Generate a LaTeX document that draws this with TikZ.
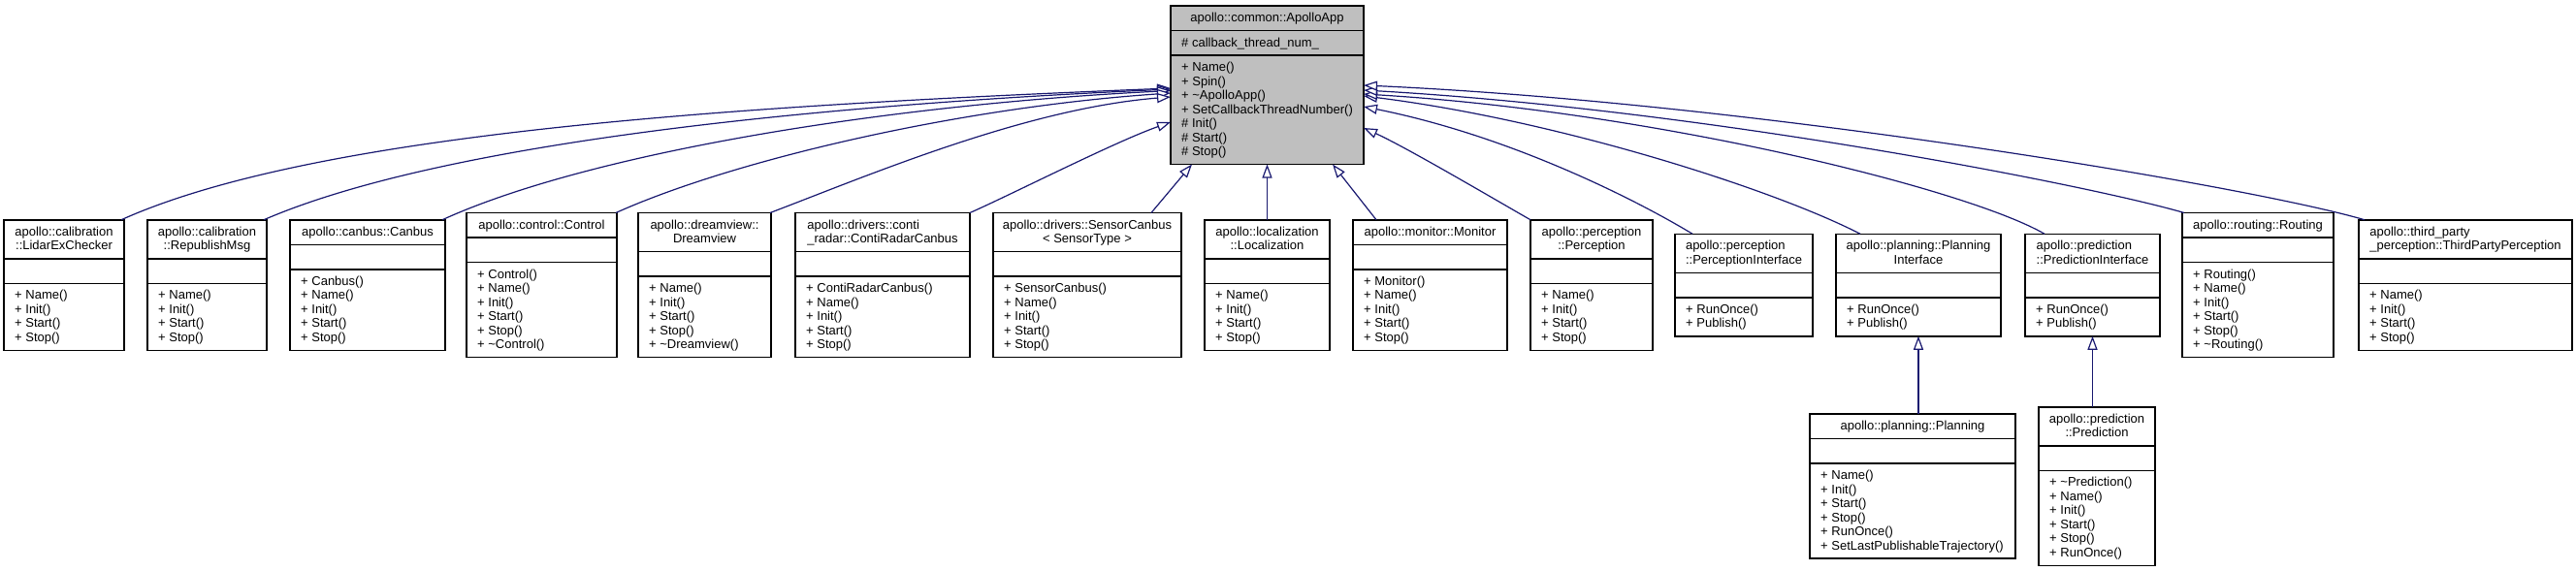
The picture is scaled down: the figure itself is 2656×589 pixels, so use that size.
\documentclass[tikz,border=0pt]{standalone}
\usepackage{fontspec}
\setmainfont{Liberation Sans}
\usetikzlibrary{arrows.meta}
\definecolor{grey75}{HTML}{BFBFBF}
\definecolor{navyedge}{HTML}{191970}
\newcommand\cfs{\fontsize{13}{14.5}\selectfont}
\tikzset{
  cbox/.style={draw=black, line width=1.5pt, inner sep=0pt, outer sep=0pt},
  cboxfill/.style={},
  cline/.style={draw=black, line width=1.5pt},
  ttl/.style={font=\cfs, align=center, inner sep=0pt},
  ttlL/.style={font=\cfs, align=left, inner sep=0pt},
  mth/.style={font=\cfs, align=left, inner sep=0pt},
  inh/.style={draw=navyedge, line width=1.2pt, -{Triangle[length=14pt,width=10pt,fill=white]}}
}
% #1 name, #2 x, #3 top, #4 width, #5 title height, #6 method height, #7 title style, #8 title, #9 methods
\newcommand\cbox[9]{%
  \node[cbox, cboxfill, anchor=north west, minimum width=#4pt, minimum height={(#5+25.5+#6)*1pt}] (#1) at (#2,-#3) {};
  \draw[cline] ([yshift={-#5pt}]#1.north west) -- ([yshift={-#5pt}]#1.north east);
  \draw[cline] ([yshift={-(#5+25.5)*1pt}]#1.north west) -- ([yshift={-(#5+25.5)*1pt}]#1.north east);
  \node[#7, anchor=north] (#1-t) at ([yshift=-6.2pt]#1.north) {\strut #8};
  \node[mth, anchor=north west] (#1-m) at ([xshift=11pt, yshift={-(#5+25.5+6.2)*1pt}]#1.north west) {\strut #9};
}
\begin{document}
\begin{tikzpicture}[x=1pt,y=1pt]
\useasboundingbox (0,0) rectangle (2656,-589);

% parent
\tikzset{cboxfill/.style={fill=grey75}}
\cbox{app}{1207}{6}{199}{25.5}{112.5}{ttl}{apollo::common::ApolloApp}{+ Name()\\+ Spin()\\+ \textasciitilde ApolloApp()\\+ SetCallbackThreadNumber()\\\# Init()\\\# Start()\\\# Stop()}
\node[mth, anchor=north west] (app-a) at ([xshift=11pt, yshift=-31.7pt]app.north west) {\strut\# callback\_thread\_num\_};
\tikzset{cboxfill/.style={}}

% row 1
\cbox{lidar}{4}{226.75}{124}{40}{69}{ttl}{apollo::calibration\\::LidarExChecker}{+ Name()\\+ Init()\\+ Start()\\+ Stop()}
\cbox{rep}{152}{226.75}{123}{40}{69}{ttl}{apollo::calibration\\::RepublishMsg}{+ Name()\\+ Init()\\+ Start()\\+ Stop()}
\cbox{canbus}{299}{226.75}{160}{25.5}{83.5}{ttl}{apollo::canbus::Canbus}{+ Canbus()\\+ Name()\\+ Init()\\+ Start()\\+ Stop()}
\cbox{control}{481}{219.5}{155}{25.5}{98}{ttl}{apollo::control::Control}{+ Control()\\+ Name()\\+ Init()\\+ Start()\\+ Stop()\\+ \textasciitilde Control()}
\cbox{dream}{658}{219.5}{137}{40}{83.5}{ttl}{apollo::dreamview::\\Dreamview}{+ Name()\\+ Init()\\+ Start()\\+ Stop()\\+ \textasciitilde Dreamview()}
\cbox{conti}{820}{219.5}{180}{40}{83.5}{ttlL}{apollo::drivers::conti\\\_radar::ContiRadarCanbus}{+ ContiRadarCanbus()\\+ Name()\\+ Init()\\+ Start()\\+ Stop()}
\cbox{sensor}{1024}{219.5}{194}{40}{83.5}{ttl}{apollo::drivers::SensorCanbus\\\textless{} SensorType \textgreater}{+ SensorCanbus()\\+ Name()\\+ Init()\\+ Start()\\+ Stop()}
\cbox{loc}{1242}{226.75}{129}{40}{69}{ttl}{apollo::localization\\::Localization}{+ Name()\\+ Init()\\+ Start()\\+ Stop()}
\cbox{mon}{1395}{226.75}{159}{25.5}{83.5}{ttl}{apollo::monitor::Monitor}{+ Monitor()\\+ Name()\\+ Init()\\+ Start()\\+ Stop()}
\cbox{perc}{1578}{226.75}{126}{40}{69}{ttl}{apollo::perception\\::Perception}{+ Name()\\+ Init()\\+ Start()\\+ Stop()}
\cbox{pif}{1727}{241.25}{142}{40}{40}{ttlL}{apollo::perception\\::PerceptionInterface}{+ RunOnce()\\+ Publish()}
\cbox{plif}{1893}{241.25}{170}{40}{40}{ttl}{apollo::planning::Planning\\Interface}{+ RunOnce()\\+ Publish()}
\cbox{prif}{2088}{241.25}{139}{40}{40}{ttlL}{apollo::prediction\\::PredictionInterface}{+ RunOnce()\\+ Publish()}
\cbox{rout}{2250}{219.5}{156}{25.5}{98}{ttl}{apollo::routing::Routing}{+ Routing()\\+ Name()\\+ Init()\\+ Start()\\+ Stop()\\+ \textasciitilde Routing()}
\cbox{third}{2432}{226.75}{220}{40}{69}{ttlL}{apollo::third\_party\\\_perception::ThirdPartyPerception}{+ Name()\\+ Init()\\+ Start()\\+ Stop()}

% row 2
\cbox{plan}{1866}{427}{212}{25.5}{98}{ttl}{apollo::planning::Planning}{+ Name()\\+ Init()\\+ Start()\\+ Stop()\\+ RunOnce()\\+ SetLastPublishableTrajectory()}
\cbox{pred}{2102}{419.75}{120}{40}{98}{ttl}{apollo::prediction\\::Prediction}{+ \textasciitilde Prediction()\\+ Name()\\+ Init()\\+ Start()\\+ Stop()\\+ RunOnce()}

% inheritance edges, left side
\draw[inh] ([xshift=-3pt]lidar.north east) .. controls (325,-136.75) and (757,-109) .. ([yshift=-85pt]app.north west);
\draw[inh] ([xshift=-3pt]rep.north east) .. controls (452,-148.75) and (827,-109) .. ([yshift=-86pt]app.north west);
\draw[inh] ([xshift=-3pt]canbus.north east) .. controls (605,-158.75) and (907,-108.5) .. ([yshift=-87.5pt]app.north west);
\draw[inh] ([xshift=-1pt]control.north east) .. controls (755,-165.5) and (987,-111) .. ([yshift=-90pt]app.north west);
\draw[inh] ([xshift=-1pt]dream.north east) .. controls (894,-181.5) and (1057,-112) .. ([yshift=-94pt]app.north west);
\draw[inh] (conti.north east) .. controls (1040,-202) and (1150,-146) .. ([yshift=-120pt]app.north west);
% bottom
\draw[inh] ([xshift=-31pt]sensor.north east) -- ([xshift=22pt]app.south west);
\draw[inh] (loc.north) -- (loc.north |- app.south);
\draw[inh] ([xshift=24pt]mon.north west) -- ([xshift=167pt]app.south west);
% right side
\draw[inh] (perc.north west) .. controls (1540,-205) and (1450,-152) .. ([yshift=-126pt]app.north east);
\draw[inh] ([xshift=18pt]pif.north west) .. controls (1685,-205) and (1556,-140) .. ([yshift=-104pt]app.north east);
\draw[inh] ([xshift=25pt]plif.north west) .. controls (1828,-195) and (1606,-124) .. ([yshift=-93pt]app.north east);
\draw[inh] ([xshift=20pt]prif.north west) .. controls (2028,-195) and (1706,-115) .. ([yshift=-91pt]app.north east);
\draw[inh] ([xshift=2pt]rout.north west) .. controls (2152,-190.5) and (1756,-113) .. ([yshift=-87pt]app.north east);
\draw[inh] ([xshift=6pt]third.north west) .. controls (2318,-191.75) and (1806,-106) .. ([yshift=-82pt]app.north east);
% second level
\draw[inh] (plan.north -| plif.south) -- (plif.south);
\draw[inh] (pred.north -| prif.south) -- (prif.south);
\end{tikzpicture}
\end{document}
